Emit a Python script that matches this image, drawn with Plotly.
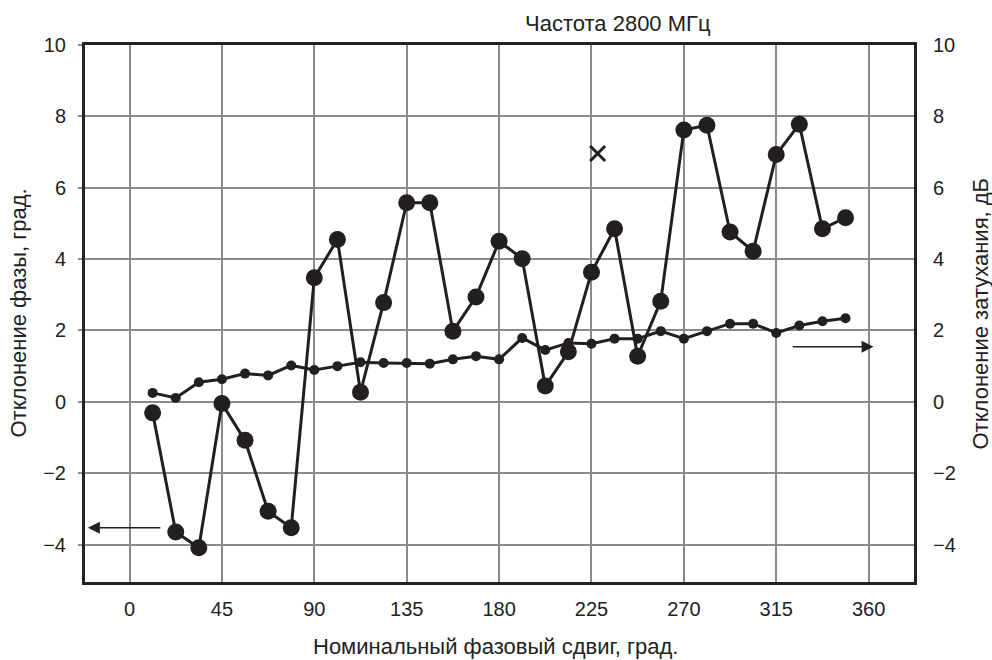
import plotly.graph_objects as go

# Nominal phase shift, degrees
phase_shift = [11.25, 22.5, 33.75, 45, 56.25, 67.5, 78.75, 90, 101.25, 112.5,
               123.75, 135, 146.25, 157.5, 168.75, 180, 191.25, 202.5, 213.75, 225,
               236.25, 247.5, 258.75, 270, 281.25, 292.5, 303.75, 315, 326.25, 337.5,
               348.75]
# Phase deviation, degrees (left axis)
phase_dev = [-0.31, -3.65, -4.09, -0.05, -1.08, -3.07, -3.53, 3.48, 4.55, 0.27,
             2.78, 5.58, 5.58, 1.98, 2.94, 4.50, 4.01, 0.44, 1.40, 3.63,
             4.85, 1.28, 2.82, 7.62, 7.75, 4.76, 4.22, 6.93, 7.78, 4.85,
             5.16]
# Attenuation deviation, dB (right axis)
atten_dev = [0.25, 0.11, 0.55, 0.63, 0.79, 0.74, 1.02, 0.89, 1.00, 1.11,
             1.09, 1.09, 1.07, 1.19, 1.28, 1.19, 1.79, 1.45, 1.65, 1.63,
             1.77, 1.77, 1.98, 1.77, 1.98, 2.19, 2.19, 1.93, 2.14, 2.26,
             2.34]
# Single cross marker
cross_x = [228]
cross_y = [6.96]

x_ticks = [0, 45, 90, 135, 180, 225, 270, 315, 360]
y_ticks = [10, 8, 6, 4, 2, 0, -2, -4]

INK = "#231f20"
GRID = "#8a8a8a"
FONT = "Liberation Sans, Arial, Helvetica, sans-serif"
TXT = 22

fig = go.Figure()

fig.add_trace(go.Scatter(
    x=phase_shift, y=atten_dev, yaxis="y2", mode="lines+markers",
    line=dict(color=INK, width=3),
    marker=dict(color=INK, size=10),
    name="Отклонение затухания", showlegend=False,
))
fig.add_trace(go.Scatter(
    x=phase_shift, y=phase_dev, mode="lines+markers",
    line=dict(color=INK, width=3),
    marker=dict(color=INK, size=17),
    name="Отклонение фазы", showlegend=False,
))
fig.add_trace(go.Scatter(
    x=cross_x, y=cross_y, mode="markers",
    marker=dict(symbol="x-thin", size=15, line=dict(color=INK, width=3)),
    showlegend=False,
))

yr = [-5.05, 10]
fig.update_layout(
    width=992, height=660,
    margin=dict(l=85, r=78, t=45, b=78),
    paper_bgcolor="white", plot_bgcolor="white",
    font=dict(family=FONT, size=20, color="#222"),
    xaxis=dict(
        range=[-21.7, 382.1], tickvals=x_ticks, ticktext=[str(v) for v in x_ticks],
        showgrid=True, gridcolor=GRID, gridwidth=1.5,
        showline=True, linecolor="#222", linewidth=3, mirror=True,
        ticks="", zeroline=False, ticklabelstandoff=7,
    ),
    yaxis=dict(
        range=yr, tickvals=y_ticks,
        showgrid=True, gridcolor=GRID, gridwidth=1.5,
        showline=True, linecolor="#222", linewidth=3,
        ticks="outside", ticklen=4, tickcolor=GRID, tickwidth=1.5,
        zeroline=False, ticklabelstandoff=8,
    ),
    yaxis2=dict(
        range=yr, tickvals=y_ticks, overlaying="y", side="right",
        showgrid=False, showline=True, linecolor="#222", linewidth=3,
        ticks="", zeroline=False, ticklabelstandoff=12,
    ),
    annotations=[
        dict(text="Частота 2800 МГц", xref="paper", yref="paper",
             x=(618 - 85) / 829, y=1, yshift=22, xanchor="center", yanchor="middle",
             showarrow=False, font=dict(size=TXT)),
        dict(text="Номинальный фазовый сдвиг, град.", xref="paper", yref="paper",
             x=(495 - 85) / 829, y=0, yshift=-64, xanchor="center", yanchor="middle",
             showarrow=False, font=dict(size=TXT)),
        dict(text="Отклонение фазы, град.", xref="paper", yref="paper",
             x=0, y=0.5, xshift=-67, textangle=-90, xanchor="center", yanchor="middle",
             showarrow=False, font=dict(size=TXT)),
        dict(text="Отклонение затухания, дБ", xref="paper", yref="paper",
             x=1, y=0.5, xshift=66, textangle=-90, xanchor="center", yanchor="middle",
             showarrow=False, font=dict(size=TXT)),
        dict(x=-20.3, y=-3.53, ax=15.7, ay=-3.53, xref="x", yref="y", axref="x", ayref="y",
             text="", showarrow=True, arrowhead=2, arrowsize=1.6, arrowwidth=1.5,
             arrowcolor=INK),
        dict(x=362.4, y=1.54, ax=322.3, ay=1.54, xref="x", yref="y", axref="x", ayref="y",
             text="", showarrow=True, arrowhead=2, arrowsize=1.6, arrowwidth=1.5,
             arrowcolor=INK),
    ],
)

fig.write_html("out.html", config={"displayModeBar": False},
               post_script="document.body.style.margin='0';document.body.style.overflow='hidden';")
